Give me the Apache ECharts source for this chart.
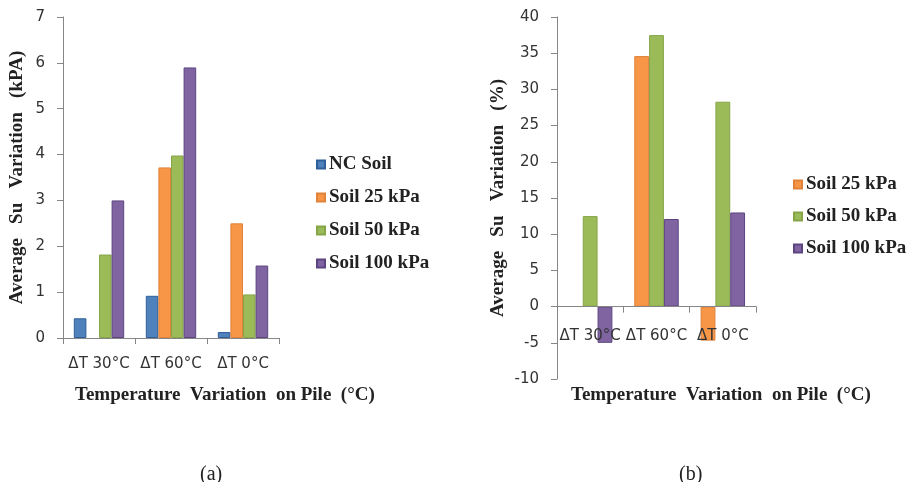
<!DOCTYPE html>
<html>
<head>
<meta charset="utf-8">
<script src="https://cdn.jsdelivr.net/npm/echarts@6/dist/echarts.min.js"></script>
<style>
  html, body { margin: 0; padding: 0; background: #fff; }
  #chart { width: 909px; height: 482px; }
</style>
</head>
<body>
<div id="chart"></div>
<script>
// categories, shared by both panels
var categories = ['ΔT 30°C', 'ΔT 60°C', 'ΔT 0°C'];

// (a) average Su variation, kPA (null = no bar drawn)
var ncSoilA = [0.43, 0.92, 0.13];
var soil25A = [null, 3.72, 2.5];
var soil50A = [1.82, 3.98, 0.95];
var soil100A = [3.0, 5.9, 1.58];

// (b) average Su variation, %
var soil25B = [null, 34.6, -4.7];
var soil50B = [12.5, 37.5, 28.3];
var soil100B = [-5.0, 12.1, 13.0];

var legendA = ['NC Soil', 'Soil 25 kPa', 'Soil 50 kPa', 'Soil 100 kPa'];
var legendB = ['Soil 25 kPa', 'Soil 50 kPa', 'Soil 100 kPa'];

var colors = {
    'NC Soil': ['#4F81BD', '#2F5F98'],
    'Soil 25 kPa': ['#F79646', '#E0823A'],
    'Soil 50 kPa': ['#9BBB59', '#86A548'],
    'Soil 100 kPa': ['#8064A2', '#5C4480']
};

var tickFont = 'DejaVu Sans';
var serif = 'Liberation Serif';
var axisGray = '#868686';

function bar(name, data, xi, yi) {
    return {
        name: name, type: 'bar', data: data,
        xAxisIndex: xi, yAxisIndex: yi,
        barGap: 0,
        barCategoryGap: xi === 0 ? '30%' : '33%',
        itemStyle: { color: colors[name][0], borderColor: colors[name][1], borderWidth: 1 },
        emphasis: { disabled: true }
    };
}

function valueAxis(gi, min, max, step, name, gap) {
    return {
        type: 'value', gridIndex: gi, min: min, max: max, interval: step,
        name: name, nameLocation: 'middle', nameRotate: 90, nameGap: gap,
        nameTextStyle: { fontFamily: serif, fontWeight: 'bold', fontSize: 19, color: '#222' },
        axisLine: { show: true, lineStyle: { color: axisGray } },
        axisTick: { show: true, length: 6, lineStyle: { color: axisGray } },
        axisLabel: { fontFamily: tickFont, fontSize: 15, color: '#333', margin: 18 },
        splitLine: { show: false }
    };
}

// margin: labels of panel (b) sit just under the zero line, not under the grid bottom
function catAxis(gi, z, margin) {
    return {
        type: 'category', gridIndex: gi, data: categories, z: z,
        axisLine: { show: true, onZero: true, lineStyle: { color: axisGray } },
        axisTick: { show: true, length: 6, lineStyle: { color: axisGray } },
        axisLabel: { interval: 0, fontFamily: tickFont, fontSize: 15, color: '#333', margin: margin }
    };
}

var titleStyle = { fontFamily: serif, fontWeight: 'bold', fontSize: 19, color: '#222' };

var chart = echarts.init(document.getElementById('chart'));
var option = {
    animation: false,
    title: [
        { text: 'Temperature  Variation  on Pile  (°C)', left: 70, top: 381, textStyle: titleStyle },
        { text: 'Temperature  Variation  on Pile  (°C)', left: 566, top: 381, textStyle: titleStyle },
        { text: '(a)', left: 195, top: 460,
          textStyle: { fontFamily: serif, fontWeight: 'normal', fontSize: 20, color: '#222' } },
        { text: '(b)', left: 674, top: 460,
          textStyle: { fontFamily: serif, fontWeight: 'normal', fontSize: 20, color: '#222' } }
    ],
    legend: [
        { data: legendA, orient: 'vertical', left: 311, top: 150, itemWidth: 8, itemHeight: 8,
          itemGap: 14, icon: 'rect', selectedMode: false,
          textStyle: { fontFamily: serif, fontWeight: 'bold', fontSize: 19, color: '#222', padding: [0, 0, 0, -1] } },
        { data: legendB, orient: 'vertical', left: 788, top: 170, itemWidth: 8, itemHeight: 8,
          itemGap: 13, icon: 'rect', selectedMode: false,
          textStyle: { fontFamily: serif, fontWeight: 'bold', fontSize: 19, color: '#222', padding: [0, 0, 0, -1] } }
    ],
    grid: [
        { left: 63, top: 17, width: 216, height: 321, outerBoundsMode: 'none' },
        { left: 557, top: 17, width: 199, height: 362, outerBoundsMode: 'none' }
    ],
    xAxis: [catAxis(0, 0, 19), catAxis(1, 5, -50)],
    yAxis: [
        valueAxis(0, 0, 7, 1, 'Average   Su   Variation   (kPA)', 36),
        valueAxis(1, -10, 40, 5, 'Average   Su   Variation   (%)', 49)
    ],
    series: [
        bar('NC Soil', ncSoilA, 0, 0),
        bar('Soil 25 kPa', soil25A, 0, 0),
        bar('Soil 50 kPa', soil50A, 0, 0),
        bar('Soil 100 kPa', soil100A, 0, 0),
        bar('Soil 25 kPa', soil25B, 1, 1),
        bar('Soil 50 kPa', soil50B, 1, 1),
        bar('Soil 100 kPa', soil100B, 1, 1)
    ]
};
chart.setOption(option);
</script>
</body>
</html>
